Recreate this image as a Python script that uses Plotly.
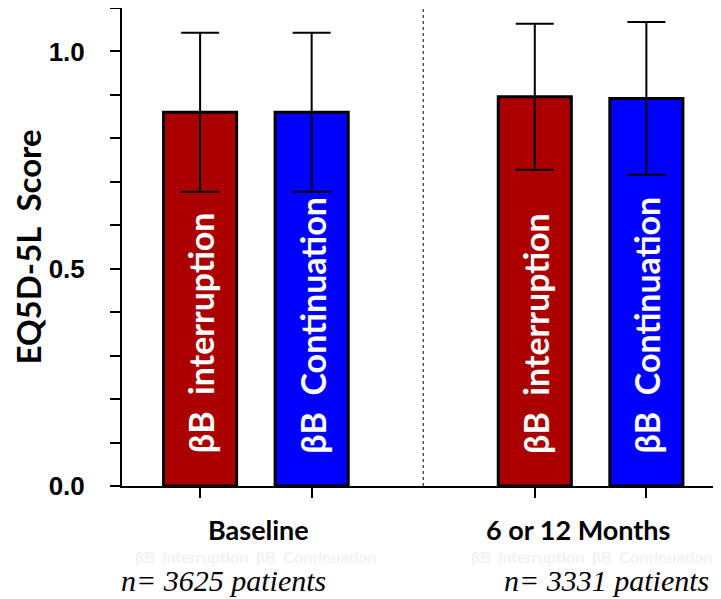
import plotly.graph_objects as go

# Data
groups = ["Baseline", "Baseline", "6 or 12 Months", "6 or 12 Months"]
series = ["βB  interruption", "βB  Continuation", "βB  interruption", "βB  Continuation"]
means = [0.86, 0.86, 0.896, 0.892]
sds = [0.183, 0.183, 0.168, 0.176]
colors = ["#AA0000", "#0000FF", "#AA0000", "#0000FF"]
positions = [0, 1, 3, 4]
group_labels = ["Baseline", "6 or 12 Months"]
n_labels = ["n= 3625 patients", "n= 3331 patients"]
faint_label = "βB  interruption  βB  Continuation"

fig = go.Figure()
fig.add_trace(go.Bar(
    x=positions, y=means, width=0.655,
    marker=dict(color=colors, line=dict(color="black", width=3)),
    error_y=dict(type="data", array=sds, visible=True, color="black", thickness=2, width=19),
    showlegend=False, hoverinfo="skip",
))

annotations = []
for p, s in zip(positions, series):
    annotations.append(dict(x=p, y=0.07, xref="x", yref="y", text=s, textangle=-90,
                            showarrow=False, yanchor="bottom", xanchor="center",
                            font=dict(family="Lato", size=34, color="white", weight="bold")))
for c, g in zip([0.52, 3.39], group_labels):
    annotations.append(dict(x=c, y=-0.090, xref="x", yref="paper", text=g, showarrow=False,
                            yanchor="middle", xanchor="center", borderpad=0,
                            font=dict(family="Lato", size=27, color="black", weight="bold")))
for c in [0.5, 3.51]:
    annotations.append(dict(x=c, y=-0.148, xref="x", yref="paper",
                            text=faint_label, showarrow=False, borderpad=0,
                            yanchor="middle", xanchor="center",
                            font=dict(family="Lato", size=16, color="#f2f2f2", weight="bold")))
for c, n in zip([0.21, 3.64], n_labels):
    annotations.append(dict(x=c, y=-0.198, xref="x", yref="paper", text=n, showarrow=False,
                            yanchor="middle", xanchor="center", borderpad=0,
                            font=dict(family="Liberation Serif", size=30, color="black", style="italic")))

fig.update_layout(
    width=713, height=591,
    margin=dict(l=114, r=1, t=0, b=113, autoexpand=False),
    plot_bgcolor="white", paper_bgcolor="white",
    annotations=annotations,
    shapes=[dict(type="line", xref="x", yref="y", x0=2, x1=2, y0=0, y1=1.1,
                 line=dict(color="black", width=1, dash="dot"))],
    xaxis=dict(range=[-0.7, 4.66], tickvals=positions, ticktext=["", "", "", ""],
               ticks="outside", ticklen=10, tickwidth=2, tickcolor="black", automargin=False,
               showline=True, linecolor="black", linewidth=2, showgrid=False, zeroline=False),
    yaxis=dict(range=[0, 1.1], tickvals=[0, 0.5, 1.0], ticktext=["0.0", "0.5", "1.0"],
               ticks="outside", ticklen=10, tickwidth=2, tickcolor="black", automargin=False,
               ticklabelstandoff=20,
               minor=dict(tickvals=[0.1, 0.2, 0.3, 0.4, 0.6, 0.7, 0.8, 0.9, 1.1],
                          ticks="outside", ticklen=10, tickwidth=2, tickcolor="black"),
               showline=True, linecolor="black", linewidth=2, showgrid=False, zeroline=False,
               tickfont=dict(family="Liberation Sans", size=26, color="black", weight="bold"),
               title=dict(text="EQ5D-5L  Score", standoff=0,
                          font=dict(family="Lato", size=33, color="black", weight="bold"))),
)

fig.write_html("out.html")
